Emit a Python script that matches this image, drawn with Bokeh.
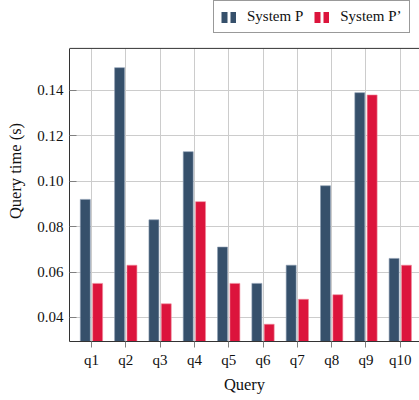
from bokeh.plotting import figure
from bokeh.models import (Range1d, FixedTicker, PrintfTickFormatter, Legend, LegendItem,
                          Span, ColumnDataSource)
from bokeh.embed import file_html
from bokeh.resources import INLINE

queries = ["q1", "q2", "q3", "q4", "q5", "q6", "q7", "q8", "q9", "q10"]
system_p = [0.092, 0.150, 0.083, 0.113, 0.071, 0.055, 0.063, 0.098, 0.139, 0.066]
system_p2 = [0.055, 0.063, 0.046, 0.091, 0.055, 0.037, 0.048, 0.050, 0.138, 0.063]
y_ticks = [0.04, 0.06, 0.08, 0.10, 0.12, 0.14]

BLUE = "#36506b"
RED = "#dc143c"
FONT = "Liberation Serif"
Y_MIN, Y_MAX = 0.0294, 0.1585
Y_TOP = 0.1796  # extra room above the axis box for the legend

xs = list(range(1, len(queries) + 1))
off = 0.18
bw = 0.29

p = figure(width=419, height=400, output_backend="svg", toolbar_location=None,
           x_range=Range1d(0.36, 10.56), y_range=Range1d(Y_MIN, Y_TOP),
           min_border_left=69, min_border_right=0, min_border_top=0, min_border_bottom=59)

src_a = ColumnDataSource(dict(x=[x - off for x in xs], top=system_p))
src_b = ColumnDataSource(dict(x=[x + off for x in xs], top=system_p2))
p.vbar(x="x", top="top", bottom=0, width=bw, source=src_a, fill_color=BLUE,
       line_color="#8a9bb0", line_width=0.6)
p.vbar(x="x", top="top", bottom=0, width=bw, source=src_b, fill_color=RED,
       line_color="#f08a9c", line_width=0.6)

# dummy renderers for a two-bar legend glyph (single point below the visible range)
la = p.line(x=[1], y=[0.0], line_color=BLUE, line_width=11, line_dash="6 3", line_cap="butt")
lb = p.line(x=[1], y=[0.0], line_color=RED, line_width=11, line_dash="6 3", line_cap="butt")

legend = Legend(items=[LegendItem(label="System P", renderers=[la]),
                       LegendItem(label="System P\u2019", renderers=[lb])],
                orientation="horizontal", location=(144, 308),
                glyph_width=15, glyph_height=12, label_height=12,
                label_standoff=11, spacing=11, padding=7, margin=0,
                label_text_font=FONT, label_text_font_size="15px",
                label_text_color="#111111",
                border_line_color="#333333", border_line_width=1,
                background_fill_alpha=1)
p.add_layout(legend)

p.outline_line_color = None

# x axis
p.xaxis.ticker = FixedTicker(ticks=xs)
p.xaxis.major_label_overrides = {x: q for x, q in zip(xs, queries)}
p.xaxis.axis_label = "Query"
p.xaxis.major_tick_in = 0
p.xaxis.major_tick_out = 6
p.xaxis.minor_tick_line_color = None
p.xaxis.major_tick_line_color = "#808080"
p.xaxis.axis_line_color = "#333333"

# y axis
p.yaxis.ticker = FixedTicker(ticks=y_ticks)
p.yaxis.formatter = PrintfTickFormatter(format="%.2f")
p.yaxis.axis_label = "Query time (s)"
p.yaxis.major_tick_in = 7
p.yaxis.major_tick_out = 0
p.yaxis.minor_tick_line_color = None
p.yaxis.major_tick_line_color = "#808080"
p.yaxis.axis_line_color = "#333333"
p.yaxis.bounds = (Y_MIN, Y_MAX)

for ax in (p.xaxis, p.yaxis):
    ax.major_label_text_font = FONT
    ax.major_label_text_font_size = "15px"
    ax.major_label_text_color = "#111111"
    ax.axis_label_text_font = FONT
    ax.axis_label_text_font_size = "16.5px"
    ax.axis_label_text_font_style = "normal"
    ax.axis_label_text_color = "#111111"
p.xaxis.major_label_standoff = 4
p.xaxis.axis_label_standoff = 4
p.yaxis.major_label_standoff = 6
p.yaxis.axis_label_standoff = 9

# top border line of the axis box
p.add_layout(Span(location=Y_MAX, dimension="width", line_color="#333333", line_width=1))

p.xgrid.ticker = FixedTicker(ticks=xs)
p.xgrid.cross_bounds = (Y_MIN, Y_MAX)
p.grid.grid_line_color = "#cccccc"
p.grid.grid_line_width = 1
p.background_fill_color = "white"

open("out.html", "w").write(file_html(p, INLINE))
